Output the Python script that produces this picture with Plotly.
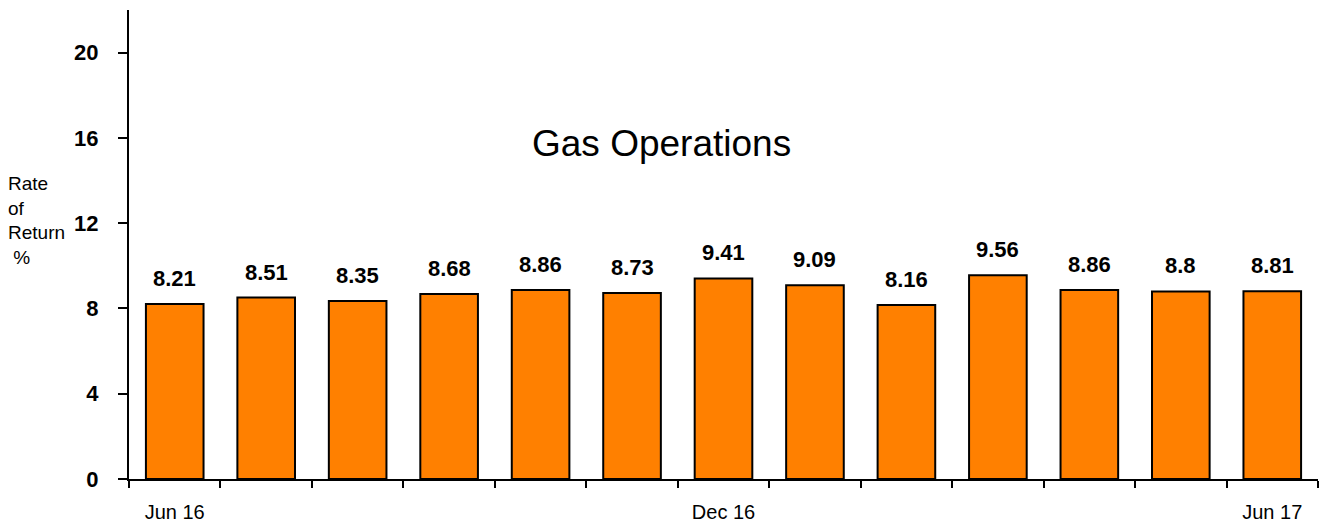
import plotly.graph_objects as go

months = ['Jun 16', 'Jul 16', 'Aug 16', 'Sep 16', 'Oct 16', 'Nov 16', 'Dec 16',
          'Jan 17', 'Feb 17', 'Mar 17', 'Apr 17', 'May 17', 'Jun 17']
rate = [8.21, 8.51, 8.35, 8.68, 8.86, 8.73, 9.41, 9.09, 8.16, 9.56, 8.86, 8.8, 8.81]
shown_labels = ['Jun 16', 'Dec 16', 'Jun 17']
y_ticks = [0, 4, 8, 12, 16, 20]

font = 'Liberation Sans, Arial, sans-serif'

fig = go.Figure()
fig.add_trace(go.Bar(x=months, y=rate,
                     marker=dict(color='#FF8000', line=dict(color='black', width=2))))

# value labels above bars
for m, v in zip(months, rate):
    fig.add_annotation(x=m, y=v, text=str(v), showarrow=False, yanchor='bottom', yshift=11,
                       font=dict(family=font, size=22, color='black', weight='bold'))

fig.add_annotation(x=0.448, y=0.716, xref='paper', yref='paper', text='Gas Operations',
                   showarrow=False, xanchor='center', yanchor='middle',
                   font=dict(family=font, size=37, color='black'))

fig.add_annotation(xref='x domain', yref='y', x=-123 / 1189, y=(479 - 220) / 21.32,
                   text='Rate<br>of<br>Return<br> %',
                   showarrow=False, align='left', xanchor='left', yanchor='middle',
                   font=dict(family=font, size=19, color='black'))

fig.update_layout(width=1329, height=522,
                  margin=dict(l=129, r=11, t=10, b=43),
                  plot_bgcolor='white', paper_bgcolor='white',
                  bargap=0.37, showlegend=False)
fig.update_xaxes(type='category', tickson='boundaries', ticks='outside', ticklen=7,
                 tickwidth=2, tickcolor='black', showline=True, linecolor='black', linewidth=2,
                 tickvals=months, ticktext=[m if m in shown_labels else '' for m in months],
                 ticklabelstandoff=14, showgrid=False, automargin=False,
                 tickfont=dict(family=font, size=20, color='black'))
fig.update_yaxes(range=[0, 22], tickvals=y_ticks, ticks='outside', ticklen=9, tickwidth=2,
                 tickcolor='black', showline=True, linecolor='black', linewidth=2,
                 showgrid=False, zeroline=False, ticklabelstandoff=15, automargin=False,
                 tickfont=dict(family=font, size=22, color='black', weight='bold'))

fig.write_html('out.html', config={'displayModeBar': False},
               post_script="document.body.style.margin='0';")
